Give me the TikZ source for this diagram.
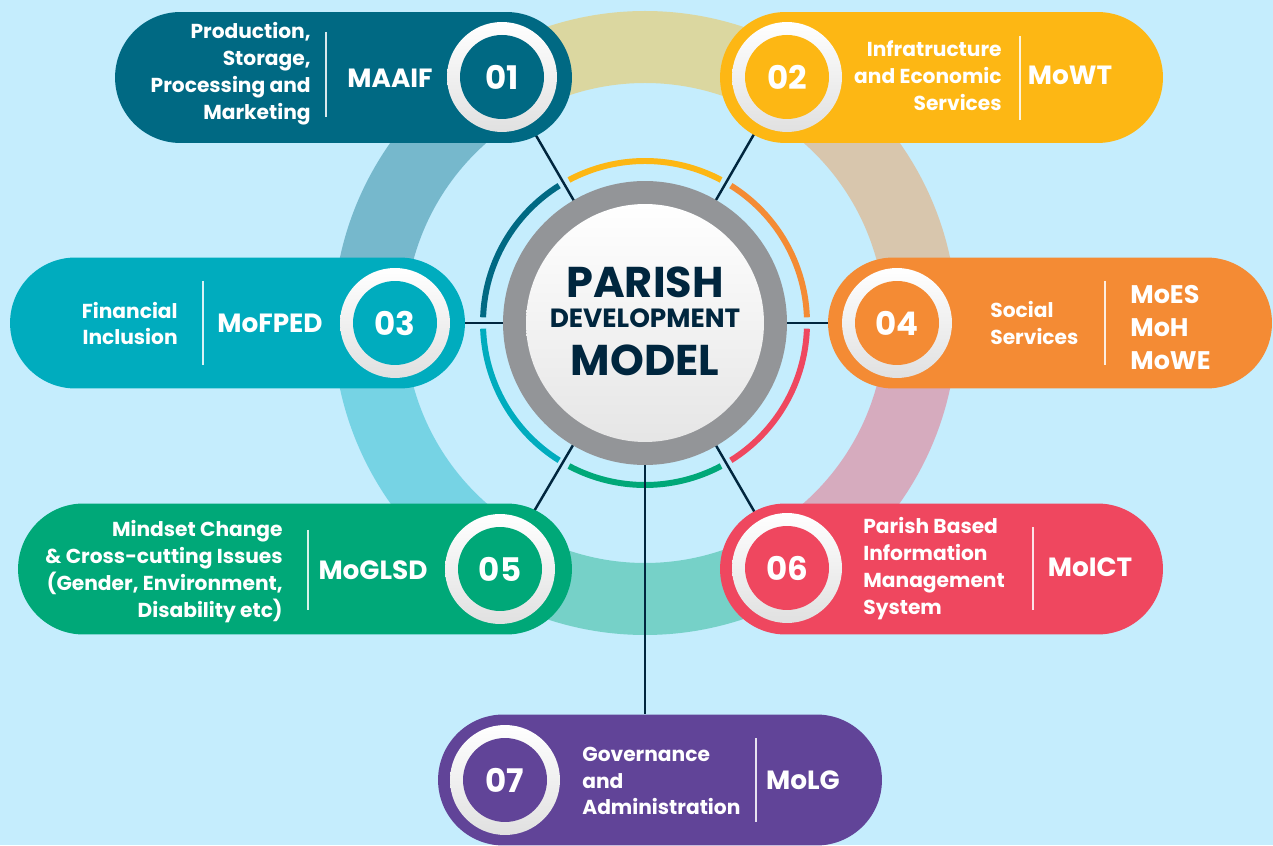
\documentclass[tikz,border=0pt]{standalone}
\usepackage{fontspec}
\setmainfont{Poppins}
\newfontfamily\numfont{Poppins}
\usetikzlibrary{backgrounds}

\definecolor{bgblue}{RGB}{197,237,253}
\definecolor{c01}{RGB}{0,105,131}
\definecolor{c02}{RGB}{253,183,20}
\definecolor{c03}{RGB}{0,172,190}
\definecolor{c04}{RGB}{244,139,52}
\definecolor{c05}{RGB}{0,168,120}
\definecolor{c06}{RGB}{239,71,95}
\definecolor{c07}{RGB}{97,68,152}
\definecolor{hubgray}{RGB}{147,149,152}
\definecolor{navy}{RGB}{0,38,62}

\tikzset{
  pill/.style={rectangle, rounded corners=1.31cm, minimum height=2.62cm, inner sep=0pt},
  numring/.style={circle, minimum size=2.2cm, inner sep=0pt, top color=white, bottom color=black!12},
  numdisk/.style={circle, minimum size=1.68cm, inner sep=0pt, text=white,
    font=\numfont\bfseries\fontsize{18.5}{20}\selectfont},
  desc/.style={text=white, inner sep=0pt, font=\bfseries\fontsize{11.5}{15.3}\selectfont},
  ministry/.style={text=white, inner sep=0pt, font=\bfseries\fontsize{15}{18.4}\selectfont},
  divider/.style={white, opacity=0.85, line width=0.8pt},
  spoke/.style={navy, line width=1.4pt},
  title/.style={text=navy, inner sep=0pt, font=\numfont\bfseries},
}

\begin{document}
\begin{tikzpicture}[x=0.02cm, y=0.02cm]
    \useasboundingbox (0,0) rectangle (1273,845);

    % hub in the middle
    \node[circle, fill=hubgray, minimum size=5.68cm, inner sep=0pt] (hub) at (645,522) {};
    \node[circle, top color=white, bottom color=black!10, minimum size=4.76cm, inner sep=0pt] (core) at (hub) {};
    \node[title, font=\numfont\bfseries\fontsize{24.5}{26}\selectfont] (t1) at (645,563) {PARISH};
    \node[title, font=\numfont\bfseries\fontsize{15}{16}\selectfont] (t2) at (645,527) {DEVELOPMENT};
    \node[title, font=\numfont\bfseries\fontsize{24.5}{26}\selectfont] (t3) at (645,485) {MODEL};

    % 01
    \node[pill, fill=c01, minimum width=9.14cm] (p01) at (343.5,767.5) {};
    \node[numring] (n01) at (502,768) {};
    \node[numdisk, fill=c01] (d01) at (n01) {01};
    \node[desc, align=right, anchor=east] (l01) at (311,771) {Production,\\Storage,\\Processing and\\Marketing};
    \draw[divider] (326,813) -- (326,728);
    \node[ministry] (m01) at (390,767) {MAAIF};

    % 02
    \node[pill, fill=c02, minimum width=8.86cm] (p02) at (941.5,767.5) {};
    \node[numring] (n02) at (787,768) {};
    \node[numdisk, fill=c02] (d02) at (n02) {02};
    \node[desc, align=right, anchor=east] (l02) at (1002,769) {Infratructure\\and Economic\\Services};
    \draw[divider] (1020,809) -- (1020,725);
    \node[ministry] (m02) at (1070,770) {MoWT};

    % 03
    \node[pill, fill=c03, minimum width=9.1cm] (p03) at (237.5,522) {};
    \node[numring] (n03) at (395,522) {};
    \node[numdisk, fill=c03] (d03) at (n03) {03};
    \node[desc, align=right, anchor=east] (l03) at (178,521.5) {Financial\\Inclusion};
    \draw[divider] (203,564) -- (203,480);
    \node[ministry] (m03) at (270,522) {MoFPED};

    % 04
    \node[pill, fill=c04, minimum width=8.88cm] (p04) at (1050,522) {};
    \node[numring] (n04) at (897,522) {};
    \node[numdisk, fill=c04] (d04) at (n04) {04};
    \node[desc, align=left, anchor=west] (l04) at (990,522) {Social\\Services};
    \draw[divider] (1105,564) -- (1105,480);
    \node[ministry, align=left, anchor=west, font=\bfseries\fontsize{14.5}{18.6}\selectfont] (m04) at (1130,517.5) {MoES\\MoH\\MoWE};

    % 05
    \node[pill, fill=c05, minimum width=11.08cm] (p05) at (295,276) {};
    \node[numring] (n05) at (500,276) {};
    \node[numdisk, fill=c05] (d05) at (n05) {05};
    \node[desc, align=right, anchor=east] (l05) at (283,273.5) {Mindset Change\\\& Cross-cutting Issues\\(Gender, Environment,\\Disability etc)};
    \draw[divider] (308,315) -- (308,235);
    \node[ministry] (m05) at (373,275) {MoGLSD};

    % 06
    \node[pill, fill=c06, minimum width=8.86cm] (p06) at (941.5,276) {};
    \node[numring] (n06) at (787,277) {};
    \node[numdisk, fill=c06] (d06) at (n06) {06};
    \node[desc, align=left, anchor=west] (l06) at (863,276.5) {Parish Based\\Information\\Management\\System};
    \draw[divider] (1033,318) -- (1033,235);
    \node[ministry] (m06) at (1090,278) {MoICT};

    % 07
    \node[pill, fill=c07, minimum width=8.88cm] (p07) at (660,65) {};
    \node[numring] (n07) at (505,65) {};
    \node[numdisk, fill=c07] (d07) at (n07) {07};
    \node[desc, align=left, anchor=west] (l07) at (582,64) {Governance\\and\\Administration};
    \draw[divider] (756,107) -- (756,23);
    \node[ministry] (m07) at (803,65) {MoLG};

    \begin{pgfonlayer}{background}
        \fill[bgblue] (0,0) rectangle (1273,845);
        % wide ring and thin arcs, one piece per segment
        \foreach \a/\col in {120/c01, 180/c03, 240/c05, 300/c06, 0/c04, 60/c02} {
            \fill[\col!40!bgblue, shift={(645,522)}] (\a:312) arc[start angle=\a, end angle=\a+60, radius=312]
                -- (\a+60:240) arc[start angle=\a+60, end angle=\a, radius=240] -- cycle;
            \draw[\col, line width=3.4pt, shift={(645,522)}] (\a+2:162) arc[start angle=\a+2, end angle=\a+58, radius=162];
        }
        \foreach \n in {01,02,03,04,05,06} \draw[spoke] (hub.center) -- (n\n.center);
        \draw[spoke] (hub.center) -- (hub.center |- p07.north);
    \end{pgfonlayer}
\end{tikzpicture}
\end{document}
